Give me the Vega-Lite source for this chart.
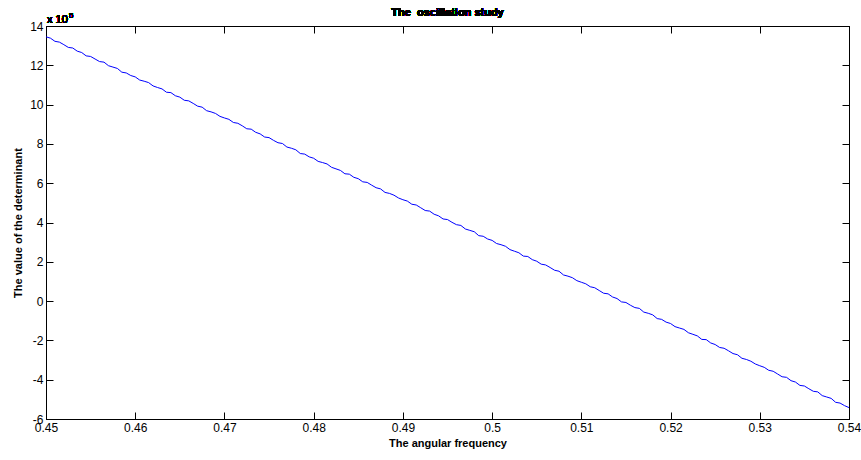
{
"$schema": "https://vega.github.io/schema/vega-lite/v6.json",
"width": 803, "height": 393,
"autosize": {"type": "none"},
"padding": {"left": 46, "top": 26, "right": 12, "bottom": 41},
"background": "white",
"config": {"view": {"stroke": "black", "strokeWidth": 1}, "font": "Liberation Sans"},
"data": {"values": [
{"w":0.45,"det":1345000},{"w":0.4505,"det":1338000},{"w":0.451,"det":1322000},{"w":0.4515,"det":1318000},{"w":0.452,"det":1305000},
{"w":0.4525,"det":1291000},{"w":0.453,"det":1288000},{"w":0.4535,"det":1272000},{"w":0.454,"det":1265000},{"w":0.4545,"det":1248000},
{"w":0.455,"det":1245000},{"w":0.4555,"det":1232000},{"w":0.456,"det":1219000},{"w":0.4565,"det":1216000},{"w":0.457,"det":1198000},
{"w":0.4575,"det":1191000},{"w":0.458,"det":1184000},{"w":0.4585,"det":1165000},{"w":0.459,"det":1161000},{"w":0.4595,"det":1148000},
{"w":0.46,"det":1141000},{"w":0.4605,"det":1125000},{"w":0.461,"det":1119000},{"w":0.4615,"det":1112000},{"w":0.462,"det":1095000},
{"w":0.4625,"det":1087000},{"w":0.463,"det":1080000},{"w":0.4635,"det":1063000},{"w":0.464,"det":1061000},{"w":0.4645,"det":1045000},
{"w":0.465,"det":1038000},{"w":0.4655,"det":1022000},{"w":0.466,"det":1019000},{"w":0.4665,"det":1006000},{"w":0.467,"det":992000},
{"w":0.4675,"det":987000},{"w":0.468,"det":969000},{"w":0.4685,"det":963000},{"w":0.469,"det":955000},{"w":0.4695,"det":940000},
{"w":0.47,"det":932000},{"w":0.4705,"det":925000},{"w":0.471,"det":909000},{"w":0.4715,"det":905000},{"w":0.472,"det":892000},
{"w":0.4725,"det":877000},{"w":0.473,"det":875000},{"w":0.4735,"det":859000},{"w":0.474,"det":851000},{"w":0.4745,"det":835000},
{"w":0.475,"det":832000},{"w":0.4755,"det":818000},{"w":0.476,"det":806000},{"w":0.4765,"det":802000},{"w":0.477,"det":784000},
{"w":0.4775,"det":778000},{"w":0.478,"det":770000},{"w":0.4785,"det":751000},{"w":0.479,"det":748000},{"w":0.4795,"det":734000},
{"w":0.48,"det":727000},{"w":0.4805,"det":711000},{"w":0.481,"det":705000},{"w":0.4815,"det":698000},{"w":0.482,"det":681000},
{"w":0.4825,"det":673000},{"w":0.483,"det":665000},{"w":0.4835,"det":648000},{"w":0.484,"det":646000},{"w":0.4845,"det":630000},
{"w":0.485,"det":623000},{"w":0.4855,"det":607000},{"w":0.486,"det":604000},{"w":0.4865,"det":590000},{"w":0.487,"det":577000},
{"w":0.4875,"det":571000},{"w":0.488,"det":553000},{"w":0.4885,"det":548000},{"w":0.489,"det":539000},{"w":0.4895,"det":525000},
{"w":0.49,"det":516000},{"w":0.4905,"det":509000},{"w":0.491,"det":493000},{"w":0.4915,"det":489000},{"w":0.492,"det":475000},
{"w":0.4925,"det":461000},{"w":0.493,"det":458000},{"w":0.4935,"det":442000},{"w":0.494,"det":434000},{"w":0.4945,"det":418000},
{"w":0.495,"det":415000},{"w":0.4955,"det":401000},{"w":0.496,"det":389000},{"w":0.4965,"det":385000},{"w":0.497,"det":367000},
{"w":0.4975,"det":360000},{"w":0.498,"det":353000},{"w":0.4985,"det":333000},{"w":0.499,"det":330000},{"w":0.4995,"det":316000},
{"w":0.5,"det":309000},{"w":0.5005,"det":293000},{"w":0.501,"det":287000},{"w":0.5015,"det":279000},{"w":0.502,"det":262000},
{"w":0.5025,"det":254000},{"w":0.503,"det":246000},{"w":0.5035,"det":229000},{"w":0.504,"det":227000},{"w":0.5045,"det":211000},
{"w":0.505,"det":203000},{"w":0.5055,"det":188000},{"w":0.506,"det":184000},{"w":0.5065,"det":171000},{"w":0.507,"det":157000},
{"w":0.5075,"det":152000},{"w":0.508,"det":133000},{"w":0.5085,"det":127000},{"w":0.509,"det":119000},{"w":0.5095,"det":104000},
{"w":0.51,"det":96000},{"w":0.5105,"det":88000},{"w":0.511,"det":73000},{"w":0.5115,"det":68000},{"w":0.512,"det":54000},
{"w":0.5125,"det":40000},{"w":0.513,"det":37000},{"w":0.5135,"det":21000},{"w":0.514,"det":13000},{"w":0.5145,"det":-4000},
{"w":0.515,"det":-7000},{"w":0.5155,"det":-21000},{"w":0.516,"det":-33000},{"w":0.5165,"det":-37000},{"w":0.517,"det":-56000},
{"w":0.5175,"det":-62000},{"w":0.518,"det":-70000},{"w":0.5185,"det":-89000},{"w":0.519,"det":-93000},{"w":0.5195,"det":-107000},
{"w":0.52,"det":-114000},{"w":0.5205,"det":-130000},{"w":0.521,"det":-137000},{"w":0.5215,"det":-144000},{"w":0.522,"det":-161000},
{"w":0.5225,"det":-169000},{"w":0.523,"det":-177000},{"w":0.5235,"det":-195000},{"w":0.524,"det":-196000},{"w":0.5245,"det":-213000},
{"w":0.525,"det":-221000},{"w":0.5255,"det":-236000},{"w":0.526,"det":-240000},{"w":0.5265,"det":-253000},{"w":0.527,"det":-267000},
{"w":0.5275,"det":-273000},{"w":0.528,"det":-291000},{"w":0.5285,"det":-297000},{"w":0.529,"det":-306000},{"w":0.5295,"det":-320000},
{"w":0.53,"det":-329000},{"w":0.5305,"det":-337000},{"w":0.531,"det":-352000},{"w":0.5315,"det":-357000},{"w":0.532,"det":-371000},
{"w":0.5325,"det":-385000},{"w":0.533,"det":-388000},{"w":0.5335,"det":-405000},{"w":0.534,"det":-412000},{"w":0.5345,"det":-429000},
{"w":0.535,"det":-432000},{"w":0.5355,"det":-446000},{"w":0.536,"det":-459000},{"w":0.5365,"det":-462000},{"w":0.537,"det":-481000},
{"w":0.5375,"det":-488000},{"w":0.538,"det":-495000},{"w":0.5385,"det":-515000},{"w":0.539,"det":-519000},{"w":0.5395,"det":-532000},
{"w":0.54,"det":-542000}
]},
"layer": [
{
"mark": {"type": "line", "color": "#0000ff", "strokeWidth": 1, "clip": true},
"encoding": {
"x": {"field": "w", "type": "quantitative", "scale": {"domain": [0.45, 0.54], "nice": false, "zero": false},
 "axis": {"orient": "bottom", "values": [0.45,0.46,0.47,0.48,0.49,0.5,0.51,0.52,0.53,0.54], "format": ".2~f", "grid": false,
  "tickSize": -7, "tickColor": "black", "domainColor": "black", "labelColor": "black", "labelFontSize": 12, "labelFont": "Liberation Sans",
  "labelPadding": 10, "labelFlush": false, "labelOverlap": false,
  "title": "The angular frequency", "titleFontSize": 11, "titleFontWeight": "bold", "titleFont": "Liberation Sans", "titleColor": "black", "titlePadding": 4}},
"y": {"field": "det", "type": "quantitative", "scale": {"domain": [-600000, 1400000], "nice": false, "zero": false},
 "axis": {"orient": "left", "values": [-600000,-400000,-200000,0,200000,400000,600000,800000,1000000,1200000,1400000],
  "labelExpr": "toString(round(datum.value/100000))", "grid": false,
  "tickSize": -7, "tickColor": "black", "domainColor": "black", "labelColor": "black", "labelFontSize": 12, "labelFont": "Liberation Sans",
  "labelPadding": 10, "labelFlush": false, "labelOverlap": false,
  "title": "The value of the determinant", "titleFontSize": 11, "titleFontWeight": "bold", "titleFont": "Liberation Sans", "titleColor": "black", "titlePadding": 6}}
}
},
{
"mark": {"type": "line", "opacity": 0},
"encoding": {
"x": {"field": "w", "type": "quantitative", "scale": {"domain": [0.45, 0.54], "nice": false, "zero": false},
 "axis": {"orient": "top", "values": [0.45,0.46,0.47,0.48,0.49,0.5,0.51,0.52,0.53,0.54], "labels": false, "grid": false, "tickSize": -7, "tickColor": "black", "domainColor": "black", "title": null}},
"y": {"field": "det", "type": "quantitative", "scale": {"domain": [-600000, 1400000], "nice": false, "zero": false},
 "axis": {"orient": "right", "values": [-600000,-400000,-200000,0,200000,400000,600000,800000,1000000,1200000,1400000], "labels": false, "grid": false, "tickSize": -7, "tickColor": "black", "domainColor": "black", "title": null}}
}
},
{
"mark": {"type": "text", "align": "center", "baseline": "middle", "dy": -13, "fontSize": 11, "fontWeight": "bold", "font": "Liberation Sans", "color": "black"},
"encoding": {
"x": {"datum": 0.495, "type": "quantitative", "axis": null},
"y": {"datum": 1400000, "type": "quantitative", "axis": null},
"text": {"value": "The \u00a0oscillation study"}
}
},
{
"mark": {"type": "text", "align": "left", "baseline": "alphabetic", "dx": 1, "dy": -3, "fontSize": 11, "font": "Liberation Sans", "color": "black"},
"encoding": {
"x": {"datum": 0.45, "type": "quantitative", "axis": null},
"y": {"datum": 1400000, "type": "quantitative", "axis": null},
"text": {"value": "x 10"}
}
},
{
"mark": {"type": "text", "align": "left", "baseline": "alphabetic", "dx": 23, "dy": -8, "fontSize": 8, "font": "Liberation Sans", "color": "black"},
"encoding": {
"x": {"datum": 0.45, "type": "quantitative", "axis": null},
"y": {"datum": 1400000, "type": "quantitative", "axis": null},
"text": {"value": "5"}
}
}
],
"resolve": {"axis": {"x": "independent", "y": "independent"}}
}
